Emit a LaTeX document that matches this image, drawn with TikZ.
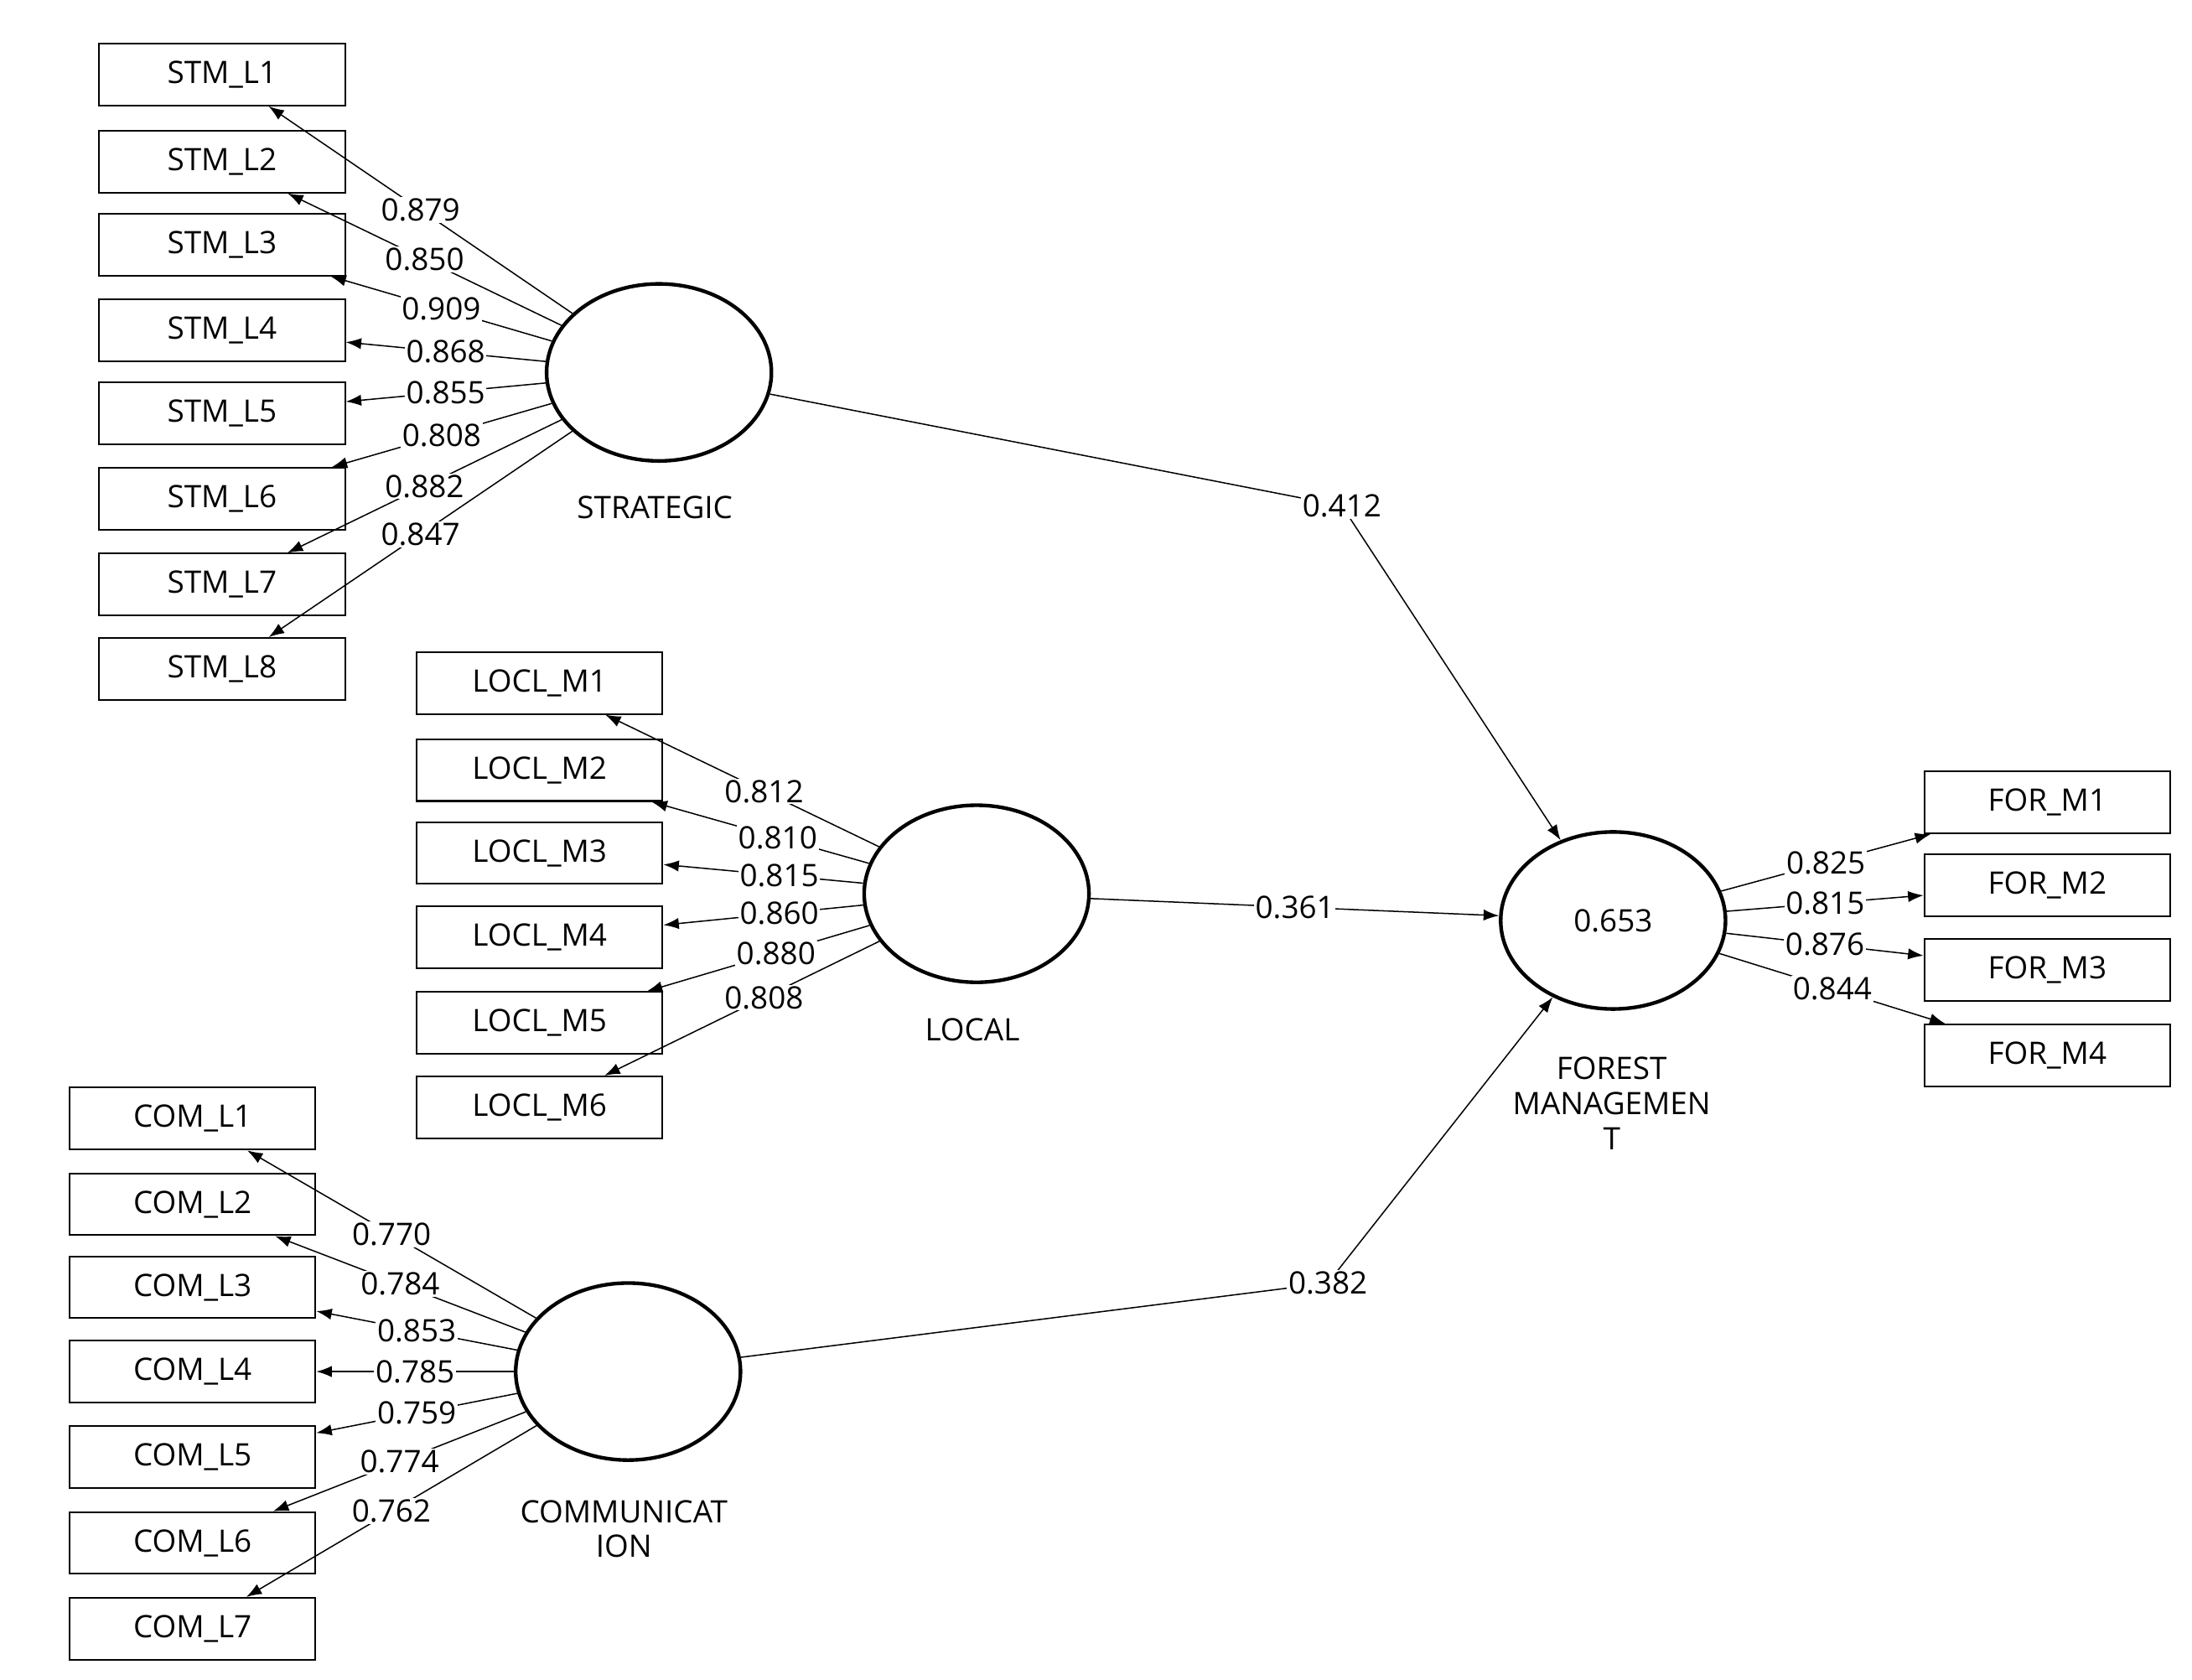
\documentclass[tikz,border=0pt]{standalone}
\usepackage{fontspec}
\setmainfont{Open Sans}
\usetikzlibrary{arrows.meta,shapes.geometric}
\begin{document}
\begin{tikzpicture}[x=1pt,y=-1pt,
  ind/.style={draw,line width=1.2pt,minimum width=175pt,minimum height=44pt,inner sep=0pt,font=\fontsize{22}{25}\selectfont},
  lat/.style={draw,line width=2.6pt,ellipse,minimum width=160pt,minimum height=126pt,inner sep=0pt,font=\fontsize{22}{25}\selectfont},
  lab/.style={font=\fontsize{22}{25}\selectfont,align=center},
  ld/.style={fill=white,inner sep=1pt,font=\fontsize{22}{25}\selectfont},
  ar/.style={line width=0.9pt,-{Latex[length=11pt,width=8pt]}}]
\useasboundingbox (0,0) rectangle (1560,1195);
% strategic
\node[lat] (S) at (469,265) {};
\node[lab] (Sl) at (466,361) {STRATEGIC};
\foreach \i/\y in {1/53,2/115,3/174,4/235,5/294,6/355,7/416,8/476}
  \node[ind] (s\i) at (158,\y) {STM\_L\i};
\foreach \i/\v in {1/0.879,2/0.850,3/0.909,4/0.868,5/0.855,6/0.808,7/0.882,8/0.847}
  \draw[ar] (S) -- node[ld,pos=0.5]{\v} (s\i);
% local
\node[lat] (L) at (695,636) {};
\node[lab] (Ll) at (692,733) {LOCAL};
\foreach \i/\y in {1/486,2/548,3/607,4/667,5/728,6/788}
  \node[ind] (l\i) at (384,\y) {LOCL\_M\i};
\foreach \i/\v in {1/0.812,2/0.810,3/0.815,4/0.860,5/0.880,6/0.808}
  \draw[ar] (L) -- node[ld,pos=0.42]{\v} (l\i);
% communication
\node[lat] (C) at (447,976) {};
\node[lab] (Cl) at (444,1088) {COMMUNICAT\\ION};
\foreach \i/\y in {1/796,2/857,3/916,4/976,5/1037,6/1098,7/1159}
  \node[ind] (c\i) at (137,\y) {COM\_L\i};
\foreach \i/\v in {1/0.770,2/0.784,3/0.853,4/0.785,5/0.759,6/0.774,7/0.762}
  \draw[ar] (C) -- node[ld,pos=0.5]{\v} (c\i);
% forest
\node[lat] (F) at (1148,655) {0.653};
\node[lab] (Fl) at (1147,785) {FOREST\\MANAGEMEN\\T};
\foreach \i/\y in {1/571,2/630,3/690,4/751}
  \node[ind] (f\i) at (1457,\y) {FOR\_M\i};
\foreach \i/\v in {1/0.825,2/0.815,3/0.876,4/0.844}
  \draw[ar] (F) -- node[ld,pos=0.5]{\v} (f\i);
% structural
\coordinate (b1) at (955,360);
\coordinate (b3) at (945,913);
\draw[ar] (S) -- (b1) -- (F);
\node[ld] (t1) at (b1) {0.412};
\draw[ar] (L) -- node[ld,pos=0.5]{0.361} (F);
\draw[ar] (C) -- (b3) -- (F);
\node[ld] (t3) at (b3) {0.382};
\end{tikzpicture}
\end{document}
